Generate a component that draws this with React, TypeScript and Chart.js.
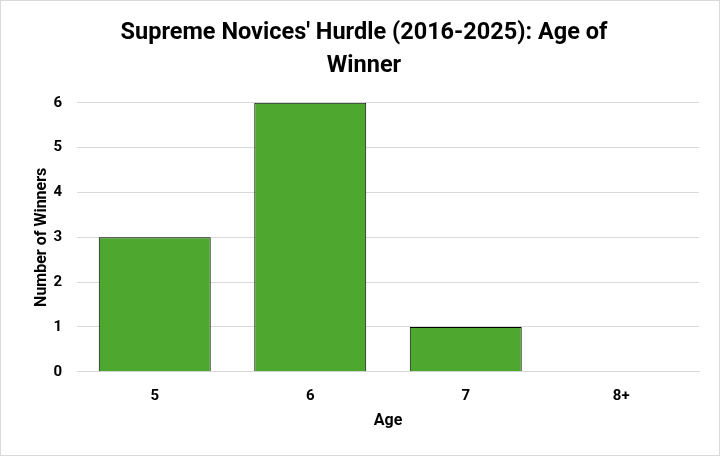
import { useEffect, useRef } from "react";
import { Chart, registerables } from "chart.js";

Chart.register(...registerables);

const ages = ["5", "6", "7", "8+"];
const winners = [3, 6, 1, 0];
const titleLines = ["Supreme Novices' Hurdle (2016-2025): Age of", "Winner"];

const FONT = "Roboto, 'Liberation Sans', sans-serif";

export default function App() {
  const canvasRef = useRef<HTMLCanvasElement>(null);

  useEffect(() => {
    document.body.style.margin = "0";
    if (!canvasRef.current) return;
    const ctx = canvasRef.current.getContext("2d");
    if (!ctx) return;

    const chart = new Chart(ctx, {
      type: "bar",
      data: {
        labels: ages,
        datasets: [
          {
            label: "Number of Winners",
            data: winners,
            backgroundColor: "#4ea72e",
            borderColor: "#000",
            borderWidth: 1,
            barPercentage: 0.72,
            categoryPercentage: 1,
          },
        ],
      },
      options: {
        animation: false,
        responsive: false,
        maintainAspectRatio: false,
        layout: { padding: { left: 28, right: 20, top: 16, bottom: 24 } },
        plugins: {
          legend: { display: false },
          tooltip: { enabled: false },
          title: {
            display: true,
            text: titleLines,
            color: "#000",
            font: { family: FONT, size: 23.5, weight: "bold", lineHeight: 1.4 },
            padding: { top: 0, bottom: 20 },
          },
        },
        scales: {
          x: {
            grid: { display: false },
            border: { display: true, color: "#d9d9d9" },
            ticks: {
              color: "#000",
              font: { family: FONT, size: 15, weight: "bold" },
              padding: 7,
            },
            title: {
              display: true,
              text: "Age",
              color: "#000",
              font: { family: FONT, size: 16, weight: "bold" },
              padding: { top: 0, bottom: 0 },
            },
          },
          y: {
            min: 0,
            max: 6,
            afterFit: (scale: any) => {
              scale.width = 48;
            },
            ticks: {
              stepSize: 1,
              color: "#000",
              font: { family: FONT, size: 15, weight: "bold" },
              padding: 15,
            },
            grid: { color: "#d9d9d9", drawTicks: false },
            border: { display: false },
            title: {
              display: true,
              text: "Number of Winners",
              color: "#000",
              font: { family: FONT, size: 16, weight: "bold" },
              padding: { top: 3, bottom: 0 },
            },
          },
        },
      },
    });

    return () => chart.destroy();
  }, []);

  return (
    <div
      style={{
        width: 720,
        height: 456,
        boxSizing: "border-box",
        border: "1px solid #d9d9d9",
        background: "#fff",
      }}
    >
      <canvas ref={canvasRef} width={718} height={454} />
    </div>
  );
}
